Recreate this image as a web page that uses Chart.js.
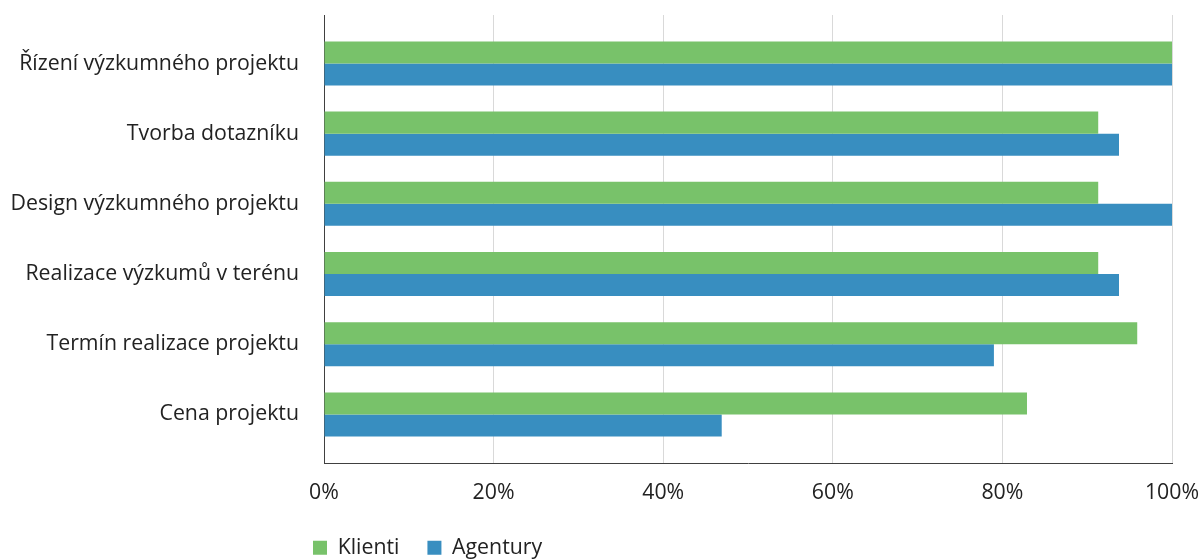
<!DOCTYPE html>
<html>
<head>
<meta charset="utf-8">
<script src="https://cdn.jsdelivr.net/npm/chart.js@4/dist/chart.umd.min.js"></script>
<style>
html,body{margin:0;padding:0;background:#fff;}
#wrap{width:1200px;height:560px;position:relative;}
</style>
</head>
<body>
<div id="wrap"><canvas id="c" width="1200" height="560"></canvas></div>
<script>
const categories = [
  "Řízení výzkumného projektu",
  "Tvorba dotazníku",
  "Design výzkumného projektu",
  "Realizace výzkumů v terénu",
  "Termín realizace projektu",
  "Cena projektu"
];
const klienti = [100, 91.3, 91.3, 91.3, 95.9, 82.9];
const agentury = [100, 93.75, 100, 93.75, 79.0, 46.9];
const xTicks = [0, 20, 40, 60, 80, 100];
const seriesNames = ["Klienti", "Agentury"];

const GREEN = "#78c26a";
const BLUE = "#388ec0";
const TEXT = "#222222";
const FONT = "'Open Sans', 'Noto Sans', sans-serif";
const FS = 21.3;

const legendPos = {
  id: 'legendPos',
  afterLayout(chart) {
    const l = chart.legend;
    if (!l) return;
    const w = l.right - l.left, h = l.bottom - l.top;
    l.left = 313 - 28; l.right = l.left + w;
    l.top = 509; l.bottom = 509 + h;
  }
};

new Chart(document.getElementById('c'), {
  type: 'bar',
  data: {
    datasets: [
      { label: seriesNames[0], data: klienti.map((v, i) => ({ x: v, y: i })), backgroundColor: GREEN },
      { label: seriesNames[1], data: agentury.map((v, i) => ({ x: v, y: i })), backgroundColor: BLUE }
    ]
  },
  options: {
    indexAxis: 'y',
    responsive: false,
    animation: false,
    devicePixelRatio: 1,
    categoryPercentage: 0.627,
    barPercentage: 1.0,
    layout: { padding: { top: 15, right: 28, left: 0, bottom: -22.4 } },
    scales: {
      y: {
        type: 'linear',
        position: 'left',
        offset: false,
        reverse: true,
        min: -0.69,
        max: 5.7,
        afterBuildTicks(scale) { scale.ticks = categories.map((c, i) => ({ value: i })); },
        afterFit(scale) { scale.width = 324; scale.paddingTop = 0; scale.paddingBottom = 0; },
        grid: { display: false, drawTicks: false },
        border: { display: true, color: '#404040', width: 1 },
        ticks: {
          padding: 25,
          color: TEXT,
          font: { family: FONT, size: FS },
          callback: (v) => categories[v]
        }
      },
      x: {
        type: 'linear',
        position: 'bottom',
        min: 0,
        max: 100,
        afterBuildTicks(scale) { scale.ticks = xTicks.map(v => ({ value: v })); },
        afterFit(scale) { scale.paddingLeft = 0; scale.paddingRight = 0; },
        grid: { color: '#d9d9d9', drawTicks: false },
        border: { display: true, color: '#404040', width: 1 },
        ticks: {
          padding: 17,
          color: TEXT,
          font: { family: FONT, size: FS },
          callback: (v) => v + '%'
        }
      }
    },
    plugins: {
      legend: {
        position: 'bottom',
        align: 'start',
        labels: {
          boxWidth: 14,
          boxHeight: 14,
          padding: 28,
          color: TEXT,
          font: { family: FONT, size: FS }
        }
      },
      tooltip: { enabled: false }
    }
  },
  plugins: [legendPos]
});
</script>
</body>
</html>
